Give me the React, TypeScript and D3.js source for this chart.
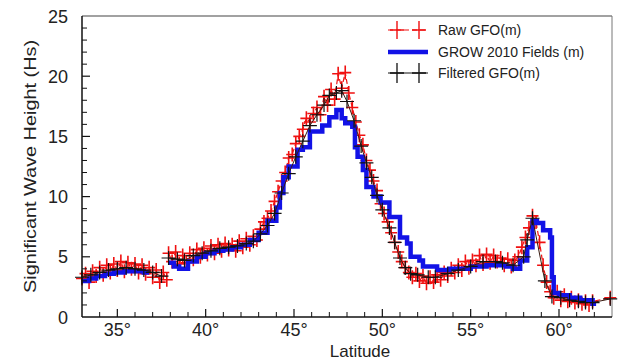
import React from "react";
import * as d3 from "d3";

// Raw GFO (red, dashed, + markers) — null separates the two passes
const rawLat = [
  33.0, 33.2, 33.4, 33.6, 33.8, 34.0, 34.2, 34.4, 34.6, 34.8, 35.0, 35.2, 35.4, 35.6, 35.8, 36.0, 36.2, 36.4, 36.6, 36.8, 37.0, 37.2, 37.4, 37.6, 37.8,
  null,
  37.9, 38.1, 38.3, 38.5, 38.7, 38.9, 39.1, 39.3, 39.5, 39.7, 39.9, 40.1, 40.3, 40.5, 40.7, 40.9, 41.1, 41.3, 41.5, 41.7, 41.9,
  42.1, 42.3, 42.5, 42.7, 42.9, 43.1, 43.3, 43.5, 43.7, 43.9, 44.1, 44.3, 44.5, 44.7, 44.9, 45.1, 45.3, 45.5, 45.7, 45.9,
  46.1, 46.3, 46.5, 46.7, 46.9, 47.1, 47.3, 47.5, 47.7, 47.9, 48.1, 48.3, 48.5, 48.7, 48.9, 49.1, 49.3, 49.5, 49.7, 49.9,
  50.1, 50.3, 50.5, 50.7, 50.9, 51.1, 51.3, 51.5, 51.7, 51.9, 52.1, 52.3, 52.5, 52.7, 52.9, 53.1, 53.3, 53.5, 53.7, 53.9,
  54.1, 54.3, 54.5, 54.7, 54.9, 55.1, 55.3, 55.5, 55.7, 55.9, 56.1, 56.3, 56.5, 56.7, 56.9, 57.1, 57.3, 57.5, 57.7, 57.9,
  58.1, 58.3, 58.5, 58.7, 58.9, 59.1, 59.3, 59.5, 59.7, 59.9, 60.1, 60.3, 60.5, 60.7, 60.9, 61.1, 61.3, 61.5, 61.7, 61.9,
  62.9,
];
const rawHs = [
  3.2, 3.6, 2.9, 3.8, 3.4, 4.1, 3.5, 4.3, 3.7, 4.4, 3.9, 4.6, 3.8, 4.5, 4.0, 4.4, 3.7, 4.3, 3.6, 4.1, 3.3, 3.9, 2.9, 3.7, 3.1,
  null,
  5.3, 4.6, 5.4, 4.4, 5.1, 4.5, 5.3, 4.8, 5.6, 5.0, 5.7, 5.2, 5.9, 5.3, 6.0, 5.5, 6.1, 5.6, 6.0, 5.5, 6.3,
  5.8, 6.5, 6.0, 6.7, 6.4, 7.3, 7.9, 8.2, 8.8, 9.6, 10.4, 11.3, 12.0, 13.2, 13.5, 14.4, 15.0, 15.6, 16.5, 16.2,
  16.9, 17.4, 16.8, 18.3, 17.6, 18.9, 18.1, 20.2, 19.0, 20.3, 18.6, 17.4, 16.2, 15.1, 14.3, 13.0, 12.2, 11.3, 10.5, 9.4,
  8.6, 7.9, 7.0, 6.2, 5.4, 4.6, 4.1, 3.7, 3.3, 3.6, 3.0, 3.4, 2.8, 3.3, 2.9, 3.5, 3.1, 3.7, 3.4, 4.0,
  3.7, 4.3, 3.9, 4.6, 4.1, 4.7, 4.3, 5.1, 4.4, 5.2, 4.5, 5.1, 4.6, 4.9, 4.3, 4.8, 4.2, 4.7, 5.0, 5.8,
  6.6, 7.4, 8.4, 7.9, 6.2, 4.3, 2.9, 2.1, 1.6, 2.1, 1.4, 1.8, 1.3, 1.6, 1.2, 1.4, 1.1, 1.3, 1.0, 1.3,
  1.6,
];

// Filtered GFO (black, solid, + markers)
const filtLat = [
  33.0, 33.5, 34.0, 34.5, 35.0, 35.5, 36.0, 36.5, 37.0, 37.5,
  null,
  37.9, 38.4, 38.8, 39.3, 39.8, 40.3, 40.8, 41.3, 41.8, 42.3, 42.7, 43.1, 43.5, 43.9, 44.3, 44.7, 45.1, 45.5, 45.9,
  46.3, 46.7, 47.0, 47.4, 47.7, 48.0, 48.4, 48.8, 49.1, 49.4, 49.7, 50.0, 50.4, 50.7, 51.0, 51.3, 51.6, 52.0, 52.6,
  53.0, 53.7, 54.3, 55.0, 55.7, 56.4, 56.8, 57.4, 58.0, 58.2, 58.5, 59.2, 59.6, 60.1, 60.6, 61.1, 61.5, 61.9, 62.9,
];
const filtHs = [
  3.3, 3.5, 3.7, 3.9, 4.0, 4.1, 4.0, 3.9, 3.7, 3.4,
  null,
  4.9, 4.8, 4.7, 5.1, 5.3, 5.5, 5.7, 5.8, 5.9, 6.1, 6.3, 6.9, 7.6, 8.6, 10.3, 11.9, 13.3, 14.6, 15.9,
  16.8, 17.6, 18.4, 18.6, 18.8, 17.9, 16.3, 14.2, 12.8, 11.6, 10.1, 8.9, 7.4, 6.2, 4.9, 4.1, 3.6, 3.5, 3.3,
  3.3, 3.6, 3.9, 4.2, 4.6, 4.6, 4.5, 4.3, 5.0, 6.4, 8.2, 3.0, 1.7, 1.6, 1.4, 1.3, 1.2, 1.2, 1.5,
];

// GROW 2010 Fields (blue, thick step line)
const growLat = [
  33.0, 33.4, 33.8, 34.3, 34.8, 35.4, 36.0, 36.5, 36.8,
  null,
  37.9, 38.2, 38.5, 39.0, 39.5, 40.0, 40.5, 41.0, 41.5, 42.0, 42.5, 43.0, 43.5, 44.0, 44.2, 44.4, 44.7, 45.2, 45.5, 45.9,
  46.6, 47.0, 47.4, 47.7, 47.9, 48.3, 48.45, 48.6, 48.9, 49.1, 49.5, 49.9, 50.4, 51.0, 51.4, 51.6, 52.1, 52.3, 53.1,
  53.8, 55.0, 55.9, 57.0, 57.4, 57.8, 58.2, 58.5, 58.75, 59.1, 59.5, 59.6, 59.7, 60.0, 60.6, 61.2, 61.9, 62.1,
];
const growHs = [
  3.0, 3.2, 3.4, 3.6, 3.7, 3.8, 3.8, 3.7, 3.7,
  null,
  4.5, 4.2, 4.0, 4.6, 5.0, 5.3, 5.5, 5.6, 5.8, 6.0, 6.4, 7.0, 8.0, 9.1, 10.3, 11.6, 12.5, 13.9, 14.1, 15.4,
  15.9, 16.6, 17.2, 16.5, 16.1, 15.8, 14.1, 13.3, 12.2, 10.8, 10.0, 9.5, 8.3, 6.6, 6.1, 5.0, 4.7, 4.2, 3.9,
  4.0, 4.2, 4.3, 4.2, 4.0, 4.7, 5.8, 8.0, 7.8, 7.2, 6.6, 3.3, 2.0, 1.8, 1.6, 1.4, 1.1, 1.1,
];

const xTicks = [35, 40, 45, 50, 55, 60];
const yTicks = [0, 5, 10, 15, 20, 25];
const legendLabels = ["Raw GFO(m)", "GROW 2010 Fields (m)", "Filtered GFO(m)"];
const xLabel = "Latitude";
const yLabel = "Significant Wave Height (Hs)";

const W = 618;
const H = 360;
const FONT = "'Liberation Sans', Arial, sans-serif";

type Pt = [number | null, number | null];

function zip(a: (number | null)[], b: (number | null)[]): Pt[] {
  return a.map((v, i) => [v, b[i]] as Pt);
}

export default function App() {
  const x = d3.scaleLinear().domain([33, 63]).range([82, 612]);
  const y = d3.scaleLinear().domain([0, 25]).range([317, 16]);

  const defined = (d: Pt) => d[0] !== null && d[1] !== null;
  const line = d3
    .line<Pt>()
    .defined(defined)
    .x((d) => x(d[0] as number))
    .y((d) => y(d[1] as number));
  const stepLine = d3
    .line<Pt>()
    .defined(defined)
    .curve(d3.curveStepAfter)
    .x((d) => x(d[0] as number))
    .y((d) => y(d[1] as number));

  const raw = zip(rawLat, rawHs);
  const filt = zip(filtLat, filtHs);
  const grow = zip(growLat, growHs);

  const crosses = (pts: Pt[], hw: number, hh: number) =>
    pts
      .filter(defined)
      .map((d) => {
        const cx = x(d[0] as number);
        const cy = y(d[1] as number);
        return `M${cx - hw},${cy}h${2 * hw}M${cx},${cy - hh}v${2 * hh}`;
      })
      .join("");

  const xMinor = d3.range(34, 63, 1).filter((v) => v % 5 !== 0);
  const yMinor = d3.range(1, 25, 1).filter((v) => v % 5 !== 0);

  const lx0 = 388;
  const lx1 = 428;
  const ltx = 438;
  const rows = [30, 52, 73];

  return (
    <svg
      width={W}
      height={H}
      style={{ position: "absolute", left: 0, top: 0, background: "#fff" }}
      fontFamily={FONT}
    >
      <rect x={0} y={0} width={W} height={H} fill="#fff" />
      <defs>
        <clipPath id="plotclip">
          <rect x={60} y={0} width={W - 60} height={330} />
        </clipPath>
      </defs>

      {/* frame top/right */}
      <line x1={82} x2={612} y1={16} y2={16} stroke="#444" strokeWidth={1.2} />
      <line x1={612} x2={612} y1={16} y2={317} stroke="#777" strokeWidth={1} />

      <g clipPath="url(#plotclip)">
        {/* raw GFO */}
        <path d={line(raw) || ""} fill="none" stroke="#f01010" strokeWidth={1.2} strokeDasharray="5,3" />
        <path d={crosses(raw, 6, 7)} fill="none" stroke="#f01010" strokeWidth={1.6} />
        {/* GROW */}
        <path d={stepLine(grow) || ""} fill="none" stroke="#1212e6" strokeWidth={4.5} strokeLinejoin="miter" />
        {/* filtered */}
        <path d={line(filt) || ""} fill="none" stroke="#3a1a10" strokeWidth={1} />
        <path d={crosses(filt, 7, 7)} fill="none" stroke="#111" strokeWidth={1.2} />
      </g>

      {/* axes */}
      <line x1={82} x2={82} y1={16} y2={317} stroke="#111" strokeWidth={1.5} />
      <line x1={82} x2={612} y1={317} y2={317} stroke="#111" strokeWidth={1.5} />

      {xTicks.map((t) => (
        <g key={"xt" + t}>
          <line x1={x(t)} x2={x(t)} y1={317} y2={309} stroke="#111" strokeWidth={1.2} />
          <text x={x(t)} y={336} fontSize={18} textAnchor="middle" fill="#222">
            {t}°
          </text>
        </g>
      ))}
      {xMinor.map((t) => (
        <line key={"xm" + t} x1={x(t)} x2={x(t)} y1={317} y2={312} stroke="#111" strokeWidth={1} />
      ))}
      {yTicks.map((t) => (
        <g key={"yt" + t}>
          {t > 0 && t < 25 && (
            <line x1={82} x2={90} y1={y(t)} y2={y(t)} stroke="#111" strokeWidth={1.2} />
          )}
          <text x={68} y={y(t) + 6.5} fontSize={18} textAnchor="end" fill="#222">
            {t}
          </text>
        </g>
      ))}
      {yMinor.map((t) => (
        <line key={"ym" + t} x1={82} x2={87} y1={y(t)} y2={y(t)} stroke="#111" strokeWidth={1} />
      ))}

      <text x={360} y={357} fontSize={17} textAnchor="middle" fill="#222">
        {xLabel}
      </text>
      <text
        transform="translate(36,293) rotate(-90)"
        x={0}
        y={0}
        fontSize={16.5}
        textLength={253}
        lengthAdjust="spacingAndGlyphs"
        fill="#222"
      >
        {yLabel}
      </text>

      {/* legend */}
      <line x1={lx0} x2={lx1} y1={rows[0]} y2={rows[0]} stroke="#f01010" strokeWidth={1.2} strokeDasharray="5,3" />
      <path
        d={`M${397 - 7},${rows[0]}h14M397,${rows[0] - 9}v18M${419 - 7},${rows[0]}h14M419,${rows[0] - 9}v18`}
        stroke="#f01010"
        strokeWidth={1.4}
        fill="none"
      />
      <line x1={lx0} x2={lx1} y1={rows[1]} y2={rows[1]} stroke="#1212e6" strokeWidth={4.5} />
      <line x1={lx0} x2={lx1} y1={rows[2]} y2={rows[2]} stroke="#111" strokeWidth={1} />
      <path
        d={`M${397 - 7},${rows[2]}h14M397,${rows[2] - 10}v20M${419 - 7},${rows[2]}h14M419,${rows[2] - 10}v20`}
        stroke="#111"
        strokeWidth={1.3}
        fill="none"
      />
      {legendLabels.map((l, i) => (
        <text key={l} x={ltx} y={rows[i] + 5} fontSize={14} fill="#222">
          {l}
        </text>
      ))}
    </svg>
  );
}
